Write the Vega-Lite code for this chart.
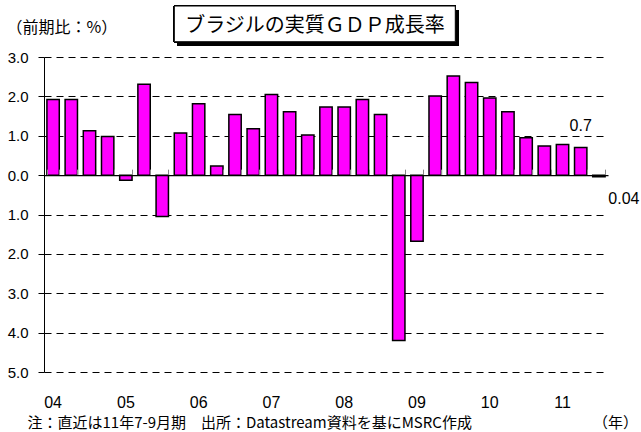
{
  "$schema": "https://vega.github.io/schema/vega-lite/v6.json",
  "width": 564,
  "height": 315,
  "autosize": {"type": "none"},
  "padding": {"left": 44, "top": 57, "right": 33, "bottom": 60},
  "background": "white",
  "config": {"view": {"stroke": null}, "font": "Liberation Sans"},
  "data": {"values": [
    {"q": "2004Q1", "v": 1.92}, {"q": "2004Q2", "v": 1.92}, {"q": "2004Q3", "v": 1.13}, {"q": "2004Q4", "v": 0.98},
    {"q": "2005Q1", "v": -0.13}, {"q": "2005Q2", "v": 2.31}, {"q": "2005Q3", "v": -1.05}, {"q": "2005Q4", "v": 1.07},
    {"q": "2006Q1", "v": 1.81}, {"q": "2006Q2", "v": 0.23}, {"q": "2006Q3", "v": 1.54}, {"q": "2006Q4", "v": 1.18},
    {"q": "2007Q1", "v": 2.05}, {"q": "2007Q2", "v": 1.61}, {"q": "2007Q3", "v": 1.02}, {"q": "2007Q4", "v": 1.73},
    {"q": "2008Q1", "v": 1.73}, {"q": "2008Q2", "v": 1.92}, {"q": "2008Q3", "v": 1.54}, {"q": "2008Q4", "v": -4.2},
    {"q": "2009Q1", "v": -1.68}, {"q": "2009Q2", "v": 2.01}, {"q": "2009Q3", "v": 2.52}, {"q": "2009Q4", "v": 2.35},
    {"q": "2010Q1", "v": 1.96}, {"q": "2010Q2", "v": 1.61}, {"q": "2010Q3", "v": 0.95}, {"q": "2010Q4", "v": 0.74},
    {"q": "2011Q1", "v": 0.78}, {"q": "2011Q2", "v": 0.7}, {"q": "2011Q3", "v": -0.04}
  ]},
  "resolve": {"axis": {"x": "independent"}},
  "layer": [
    {
      "mark": {"type": "bar", "width": 281, "fill": "#000", "xOffset": 10.5, "yOffset": 4, "y2Offset": 4},
      "encoding": {
        "x": {"datum": "2007Q3", "type": "ordinal", "axis": null},
        "y": {"datum": 4.295, "type": "quantitative"},
        "y2": {"datum": 3.388}
      }
    },
    {
      "mark": {"type": "bar", "width": 281, "fill": "#fff", "stroke": "#000", "strokeWidth": 1, "xOffset": 7},
      "encoding": {
        "x": {"datum": "2007Q3", "type": "ordinal", "axis": null},
        "y": {"datum": 4.295, "type": "quantitative"},
        "y2": {"datum": 3.388}
      }
    },
    {
      "mark": {"type": "bar", "fill": "#ff00ff", "stroke": "#000", "strokeWidth": 1.5},
      "encoding": {
        "x": {"field": "q", "type": "ordinal", "sort": "ascending",
          "scale": {"paddingInner": 0.32, "paddingOuter": 0.16},
          "axis": {"orient": "bottom", "labelExpr": "slice(datum.value,4)=='Q1' ? slice(datum.value,2,4) : ''",
            "ticks": false, "domain": false, "grid": false, "labelAngle": 0, "labelOverlap": false,
            "labelPadding": 22, "labelFontSize": 16, "labelColor": "#000",
            "title": "注：直近は11年7-9月期　出所：Datastream資料を基にMSRC作成",
            "titleFont": "Noto Sans CJK JP", "titleFontSize": 15, "titleFontWeight": 400, "titleColor": "#000",
            "titleAnchor": "start", "titleAlign": "left", "titleBaseline": "middle", "titleX": -17, "titleY": 50}},
        "y": {"field": "v", "type": "quantitative", "scale": {"domain": [-5, 3], "nice": false, "zero": false},
          "axis": {"values": [-5, -4, -3, -2, -1, 0, 1, 2, 3], "tickCount": 20, "labelExpr": "format(abs(datum.value),'.1f')",
            "labelOverlap": false, "labelFlush": false,
            "grid": true, "gridDash": [7, 5], "gridColor": "#000", "gridWidth": 1,
            "domainColor": "#000", "domainWidth": 1, "tickColor": "#000", "tickSize": 6,
            "labelFontSize": 15, "labelColor": "#000", "labelPadding": 10,
            "title": "（前期比：%）", "titleAngle": 0, "titleAlign": "left", "titleBaseline": "middle",
            "titleX": -38, "titleY": -30, "titleFont": "Noto Sans CJK JP", "titleFontSize": 16,
            "titleFontWeight": 400, "titleColor": "#000"}}
      }
    },
    {
      "transform": [{"filter": "datum.q == '2011Q2'"}],
      "mark": {"type": "text", "baseline": "middle", "align": "center", "dy": -22, "fontSize": 16, "color": "#000"},
      "encoding": {
        "x": {"field": "q", "type": "ordinal", "sort": "ascending",
          "axis": {"orient": "bottom", "offset": -196.875, "labels": false, "domain": true, "domainColor": "#000",
            "domainWidth": 1.2, "ticks": true, "tickSize": -6, "tickColor": "#888", "tickBand": "extent",
            "grid": false, "zindex": 1,
            "title": "（年）", "titleFont": "Noto Sans CJK JP", "titleFontSize": 15, "titleFontWeight": 400, "titleColor": "#000",
            "titleAnchor": "start", "titleAlign": "center", "titleBaseline": "middle", "titleX": 571, "titleY": 247}},
        "y": {"field": "v", "type": "quantitative"},
        "text": {"field": "v", "type": "quantitative", "format": ".1f"}
      }
    },
    {
      "transform": [{"filter": "datum.q == '2011Q3'"}, {"calculate": "format(abs(datum.v),'.2f')", "as": "lab"}],
      "mark": {"type": "text", "baseline": "middle", "align": "center", "dx": 25, "dy": 22, "fontSize": 16, "color": "#000"},
      "encoding": {
        "x": {"field": "q", "type": "ordinal", "sort": "ascending",
          "axis": {"orient": "top", "labels": false, "ticks": false, "domain": false, "grid": false, "zindex": 2,
            "title": "ブラジルの実質ＧＤＰ成長率", "titleFont": "Noto Sans CJK JP", "titleFontSize": 20, "titleFontWeight": 400,
            "titleColor": "#000", "titleAnchor": "start", "titleAlign": "center", "titleBaseline": "middle",
            "titleX": 270.5, "titleY": -32}},
        "y": {"field": "v", "type": "quantitative"},
        "text": {"field": "lab"}
      }
    }
  ]
}
